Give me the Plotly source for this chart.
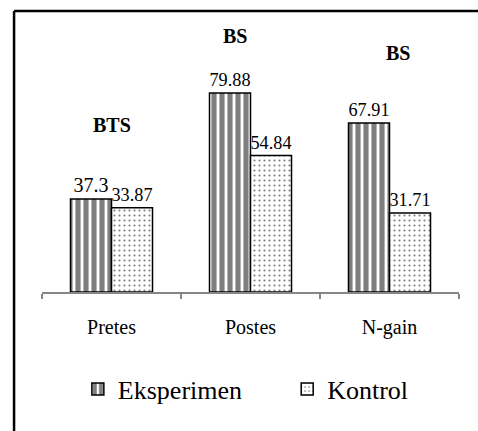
import plotly.graph_objects as go

categories = ["Pretes", "Postes", "N-gain"]
eksperimen = [37.3, 79.88, 67.91]
kontrol = [33.87, 54.84, 31.71]
signif = ["BTS", "BS", "BS"]

FONT = "Times New Roman, Liberation Serif, serif"
YMAX = 100

fig = go.Figure()

fig.add_trace(go.Bar(
    name="Eksperimen",
    x=categories,
    y=eksperimen,
    texttemplate="%{y}",
    textposition="outside",
    cliponaxis=False,
    textfont=dict(family=FONT, size=20, color="black"),
    marker=dict(
        color="white",
        line=dict(color="black", width=1.5),
        pattern=dict(shape="|", fgcolor="black", bgcolor="white", size=8, solidity=0.65),
    ),
    legend="legend",
))

fig.add_trace(go.Bar(
    name="Kontrol",
    x=categories,
    y=kontrol,
    texttemplate="%{y}",
    textposition="outside",
    cliponaxis=False,
    textfont=dict(family=FONT, size=20, color="black"),
    marker=dict(
        color="white",
        line=dict(color="black", width=1.5),
        pattern=dict(shape=".", fgcolor="black", bgcolor="white", size=5, solidity=0.15),
    ),
    legend="legend2",
))

# significance labels over each group (placed as in the original figure)
label_pos = [(0.0, 67), (0.89, 102.8), (2.06, 96)]
for lbl, (xx, yy) in zip(signif, label_pos):
    fig.add_annotation(
        x=xx, y=yy / YMAX, xref="x", yref="paper", text=f"<b>{lbl}</b>",
        xanchor="center", yanchor="middle",
        showarrow=False, font=dict(family=FONT, size=20, color="black"),
    )

# outer frame (only top and left edges are visible in the crop)
fig.add_shape(type="line", xref="paper", yref="paper",
              x0=-0.067, x1=1.2, y0=1.1285, y1=1.1285,
              line=dict(color="black", width=2.5))
fig.add_shape(type="line", xref="paper", yref="paper",
              x0=-0.067, x1=-0.067, y0=1.1285, y1=-0.7,
              line=dict(color="black", width=2.5))

fig.update_xaxes(
    type="category",
    showline=True, linecolor="#868686", linewidth=1.5,
    ticks="outside", tickson="boundaries", ticklen=5, tickcolor="#868686", tickwidth=1.5,
    ticklabelstandoff=16,
    tickfont=dict(family=FONT, size=20, color="black"),
    showgrid=False,
)
fig.update_yaxes(range=[0, YMAX], visible=False, showgrid=False)

legend_style = dict(
    orientation="h", xanchor="left", y=-0.39, yanchor="middle",
    font=dict(family=FONT, size=26, color="black"),
    bgcolor="rgba(0,0,0,0)",
)

fig.update_layout(
    width=478, height=431,
    margin=dict(l=42, r=19, t=43, b=139),
    barmode="group",
    bargap=0.41,
    bargroupgap=0,
    paper_bgcolor="white",
    plot_bgcolor="white",
    showlegend=True,
    legend=dict(x=0.086, **legend_style),
    legend2=dict(x=0.588, **legend_style),
    font=dict(family=FONT, color="black"),
)

fig.write_html(
    "out.html",
    config={"displayModeBar": False},
    post_script="document.body.style.margin='0';document.body.style.overflow='hidden';",
)
